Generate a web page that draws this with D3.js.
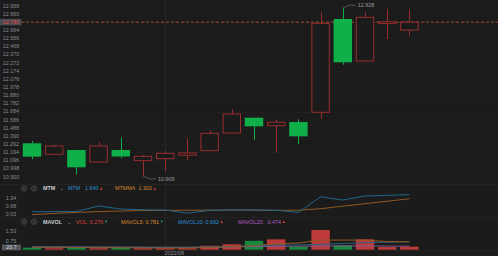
<!DOCTYPE html>
<html><head><meta charset="utf-8">
<script src="https://cdn.jsdelivr.net/npm/d3@7"></script>
<style>
html,body{margin:0;padding:0;background:#1b1b1b;}
svg{display:block;font-family:"Liberation Sans","DejaVu Sans",sans-serif;}
</style></head>
<body><svg id="c" width="498" height="256"></svg>
<script>
// ---------- DATA ----------
const dates = ["2022-07-22","2022-07-25","2022-07-26","2022-07-27","2022-07-28","2022-07-29","2022-08-01","2022-08-02","2022-08-03","2022-08-04","2022-08-05","2022-08-08","2022-08-09","2022-08-10","2022-08-11","2022-08-12","2022-08-15","2022-08-16"];
const open  = [11.302,11.170,11.221,11.077,11.221,11.093,11.117,11.158,11.213,11.426,11.610,11.514,11.558,11.675,12.798,12.292,12.745,12.665];
const high  = [11.330,11.285,11.225,11.314,11.374,11.161,11.209,11.362,11.462,11.711,11.610,11.582,11.591,12.878,12.928,12.878,12.915,12.915];
const low   = [11.109,11.165,10.929,11.070,11.121,10.909,10.969,11.101,11.213,11.426,11.342,11.189,11.293,11.598,12.248,12.292,12.557,12.597];
const close = [11.141,11.269,11.013,11.269,11.143,11.145,11.182,11.185,11.422,11.655,11.506,11.555,11.386,12.746,12.277,12.818,12.765,12.760];
const mtm   = [0.24,0.25,0.26,0.71,0.46,0.40,0.38,0.12,0.36,0.38,0.38,0.36,0.18,1.47,1.20,1.53,1.58,1.64];
const mtmma = [0.00,0.10,0.18,0.25,0.30,0.34,0.36,0.36,0.37,0.37,0.37,0.36,0.36,0.49,0.69,0.90,1.10,1.302];
const volume= [0.17,0.12,0.17,0.12,0.17,0.12,0.12,0.12,0.33,0.45,0.74,0.86,0.25,1.64,0.37,0.86,0.22,0.25];
const mavol5 = [0.20,0.20,0.18,0.17,0.16,0.15,0.14,0.14,0.18,0.24,0.34,0.50,0.55,0.80,0.80,0.80,0.68,0.65];
const mavol10= [0.25,0.25,0.24,0.23,0.22,0.21,0.20,0.20,0.22,0.26,0.34,0.38,0.39,0.45,0.52,0.58,0.62,0.66];
const mavol20= [0.22,0.22,0.21,0.21,0.20,0.20,0.20,0.20,0.21,0.23,0.26,0.28,0.29,0.31,0.31,0.32,0.30,0.30];
const priceTicks = [10.900,10.998,11.096,11.194,11.292,11.390,11.488,11.586,11.684,11.782,11.880,11.978,12.076,12.174,12.272,12.370,12.468,12.566,12.664,12.762,12.860,12.958];
const mtmTicks = [0.03,0.68,1.34];
const volTicks = [0.75,1.53];
const lastPrice = 12.760;
const highLabel = "12.928", lowLabel = "10.909";
const monthTickDate = "2022-08-01", monthTickLabel = "2022/08";

// ---------- LAYOUT ----------
const W = 498, H = 256, FS = 5.4;
const svg = d3.select("#c");
svg.append("rect").attr("width",W).attr("height",H).attr("fill","#1b1b1b");

const x = d3.scaleBand().domain(dates).range([20.9, 420.5]).paddingInner(0.17).paddingOuter(0.085);
const cx = d => x(d) + x.bandwidth()/2;
const yP = d3.scaleLinear().domain([10.900, 12.958]).range([176.7, 5.7]);
const yM = d3.scaleLinear().domain([0.03, 1.34]).range([214.3, 198.3]);
const yV = d3.scaleLinear().domain([0, 1.53]).range([249.7, 231.3]);

const UP_STROKE = "#9a2e2e", DOWN_FILL = "#0fb04a";
const axisText = "#858a92";

// grid
const g = svg.append("g");
g.selectAll("line.h").data(priceTicks).join("line")
  .attr("x1",22).attr("x2",W).attr("y1",d=>Math.round(yP(d))+0.5).attr("y2",d=>Math.round(yP(d))+0.5)
  .attr("stroke","#1f1f1f").attr("stroke-width",1);
g.append("line").attr("x1",Math.round(cx(monthTickDate))+0.5).attr("x2",Math.round(cx(monthTickDate))+0.5)
  .attr("y1",0).attr("y2",250).attr("stroke","#262626");
[184.5, 217.5, 250.5].forEach(y=>svg.append("line").attr("x1",0).attr("x2",W).attr("y1",y).attr("y2",y).attr("stroke","#232323"));

// price axis labels
svg.append("g").selectAll("text").data(priceTicks).join("text")
  .attr("x",11).attr("y",d=>yP(d)).attr("dy","0.35em").attr("text-anchor","middle")
  .attr("font-size",FS).attr("fill",axisText).text(d=>d.toFixed(3));

// last price line
svg.append("line").attr("x1",21).attr("x2",W).attr("y1",yP(lastPrice)).attr("y2",yP(lastPrice))
  .attr("stroke","#a3502a").attr("stroke-width",1).attr("stroke-dasharray","3,2");
svg.append("rect").attr("x",0).attr("y",yP(lastPrice)-3.3).attr("width",21.5).attr("height",6.6).attr("fill","#464a52");
svg.append("text").attr("x",11).attr("y",yP(lastPrice)).attr("dy","0.35em").attr("text-anchor","middle")
  .attr("font-size",FS).attr("fill","#e8474a").text(lastPrice.toFixed(3));

// candles
const idx = d3.range(dates.length);
const cg = svg.append("g");
idx.forEach(i=>{
  const up = close[i] >= open[i];
  const xc = Math.round(cx(dates[i])) + 0.5;
  const col = up ? UP_STROKE : DOWN_FILL;
  const top = yP(Math.max(open[i],close[i])), bot = yP(Math.min(open[i],close[i]));
  cg.append("line").attr("x1",xc).attr("x2",xc).attr("y1",yP(high[i])).attr("y2",top).attr("stroke",col);
  cg.append("line").attr("x1",xc).attr("x2",xc).attr("y1",bot).attr("y2",yP(low[i])).attr("stroke",col);
  if (up) {
    cg.append("rect").attr("x",x(dates[i])+0.5).attr("y",top).attr("width",x.bandwidth()-1).attr("height",Math.max(1,bot-top))
      .attr("fill","#1b1b1b").attr("stroke",col).attr("stroke-width",1);
  } else {
    cg.append("rect").attr("x",x(dates[i])).attr("y",top).attr("width",x.bandwidth()).attr("height",Math.max(1,bot-top)).attr("fill",col);
  }
});

// high/low markers
const hi = d3.maxIndex(high), lo = d3.minIndex(low);
const hx = cx(dates[hi]), hy = yP(high[hi]);
svg.append("polyline").attr("points",`${hx},${hy} ${hx+6},${hy-3} ${hx+13},${hy-3}`).attr("fill","none").attr("stroke","#6a6e75").attr("stroke-width",0.7);
svg.append("text").attr("x",hx+15).attr("y",hy-3).attr("dy","0.35em").attr("font-size",FS).attr("fill","#9a9ea5").text(highLabel);
const lx = cx(dates[lo]), ly = yP(low[lo]);
svg.append("polyline").attr("points",`${lx},${ly} ${lx+7},${ly+3} ${lx+13},${ly+3}`).attr("fill","none").attr("stroke","#6a6e75").attr("stroke-width",0.7);
svg.append("text").attr("x",lx+15).attr("y",ly+3).attr("dy","0.35em").attr("font-size",FS).attr("fill","#9a9ea5").text(lowLabel);

// ---------- legends ----------
function legend(y, items){
  const lg = svg.append("g");
  [24,34].forEach(cxp=>{
    lg.append("circle").attr("cx",cxp).attr("cy",y).attr("r",2.6).attr("fill","none").attr("stroke","#5a5e65").attr("stroke-width",0.7);
    lg.append("circle").attr("cx",cxp).attr("cy",y).attr("r",0.9).attr("fill","#5a5e65");
  });
  let cursor = 0;
  items.forEach(it=>{
    const px = Math.max(it.x, cursor);
    if (it.tri) {
      const c = it.tri;
      lg.append("path").attr("d", it.down ? `M${px},${y-1.2}L${px+2.6},${y-1.2}L${px+1.3},${y+1.2}Z` : `M${px},${y+1.2}L${px+2.6},${y+1.2}L${px+1.3},${y-1.2}Z`).attr("fill",c);
      cursor = px + 4;
    } else {
      const t = lg.append("text").attr("x",px).attr("y",y).attr("dy","0.35em").attr("font-size",it.fs||FS)
        .attr("fill",it.c).attr("font-weight",it.b?"bold":"normal").text(it.t);
      cursor = px + t.node().getComputedTextLength() + 1.5;
    }
  });
}
legend(188.5,[
  {x:43,t:"MTM",c:"#c9ccd1",b:true},
  {x:59.5,t:"⌄",c:"#7a7e85"},
  {x:68,t:"MTM",c:"#2a8fd6"},
  {x:85,t:"1.640",c:"#2a8fd6"},
  {x:98.5,tri:"#d9423f"},
  {x:115,t:"MTMMA",c:"#d8892c"},
  {x:138.5,t:"1.302",c:"#d8892c"},
  {x:152.5,tri:"#d9423f"}
]);
svg.append("g").selectAll("text").data(mtmTicks).join("text")
  .attr("x",11).attr("y",d=>yM(d)).attr("dy","0.35em").attr("text-anchor","middle")
  .attr("font-size",FS).attr("fill",axisText).text(d=>d.toFixed(2));
const lineM = arr => d3.line().x((d,i)=>cx(dates[i])).y(d=>yM(d))(arr);
svg.append("path").attr("d",lineM(mtmma)).attr("fill","none").attr("stroke","#8e5a22").attr("stroke-width",1);
svg.append("path").attr("d",lineM(mtm)).attr("fill","none").attr("stroke","#1f6688").attr("stroke-width",1);

legend(221.7,[
  {x:43,t:"MAVOL",c:"#c9ccd1",b:true},
  {x:67,t:"⌄",c:"#7a7e85"},
  {x:76,t:"VOL:",c:"#d9423f"},
  {x:89.5,t:"0.276",c:"#d9423f"},
  {x:103.5,tri:"#1f9a4a",down:true},
  {x:121,t:"MAVOL5:",c:"#d8892c"},
  {x:141.5,t:"0.781",c:"#d8892c"},
  {x:154.5,tri:"#1f9a4a",down:true},
  {x:178,t:"MAVOL10:",c:"#2a8fd6"},
  {x:203.5,t:"0.692",c:"#2a8fd6"},
  {x:217.5,tri:"#d9423f"},
  {x:238,t:"MAVOL20:",c:"#b45cc4"},
  {x:267.5,t:"0.474",c:"#b45cc4"},
  {x:282,tri:"#d9423f"}
]);

// ---------- VOLUME pane ----------
svg.append("g").selectAll("rect").data(idx).join("rect")
  .attr("x",i=>x(dates[i])).attr("width",x.bandwidth())
  .attr("y",i=>yV(volume[i])).attr("height",i=>yV(0)-yV(volume[i]))
  .attr("fill",i=>close[i]>=open[i]?"#bf3a3a":"#17893d");
const lineV = arr => d3.line().x((d,i)=>cx(dates[i])).y(d=>yV(d))(arr);
svg.append("path").attr("d",lineV(mavol20)).attr("fill","none").attr("stroke","#7c5a8c").attr("stroke-width",1);
svg.append("path").attr("d",lineV(mavol10)).attr("fill","none").attr("stroke","#2a5e80").attr("stroke-width",1);
svg.append("path").attr("d",lineV(mavol5)).attr("fill","none").attr("stroke","#8e5a22").attr("stroke-width",1);
svg.append("g").selectAll("text").data(volTicks).join("text")
  .attr("x",11).attr("y",d=>yV(d)).attr("dy","0.35em").attr("text-anchor","middle")
  .attr("font-size",FS).attr("fill",axisText).text(d=>d.toFixed(2));
svg.append("rect").attr("x",2).attr("y",244.6).attr("width",19).attr("height",5.6).attr("fill","#55595f");
svg.append("text").attr("x",11.5).attr("y",247.4).attr("dy","0.35em").attr("text-anchor","middle")
  .attr("font-size",FS).attr("fill","#d0d3d8").text("20.7");

// ---------- X axis ----------
svg.append("text").attr("x",cx(monthTickDate)+9).attr("y",253).attr("dy","0.35em").attr("text-anchor","middle")
  .attr("font-size",FS).attr("fill",axisText).text(monthTickLabel);
</script></body></html>
